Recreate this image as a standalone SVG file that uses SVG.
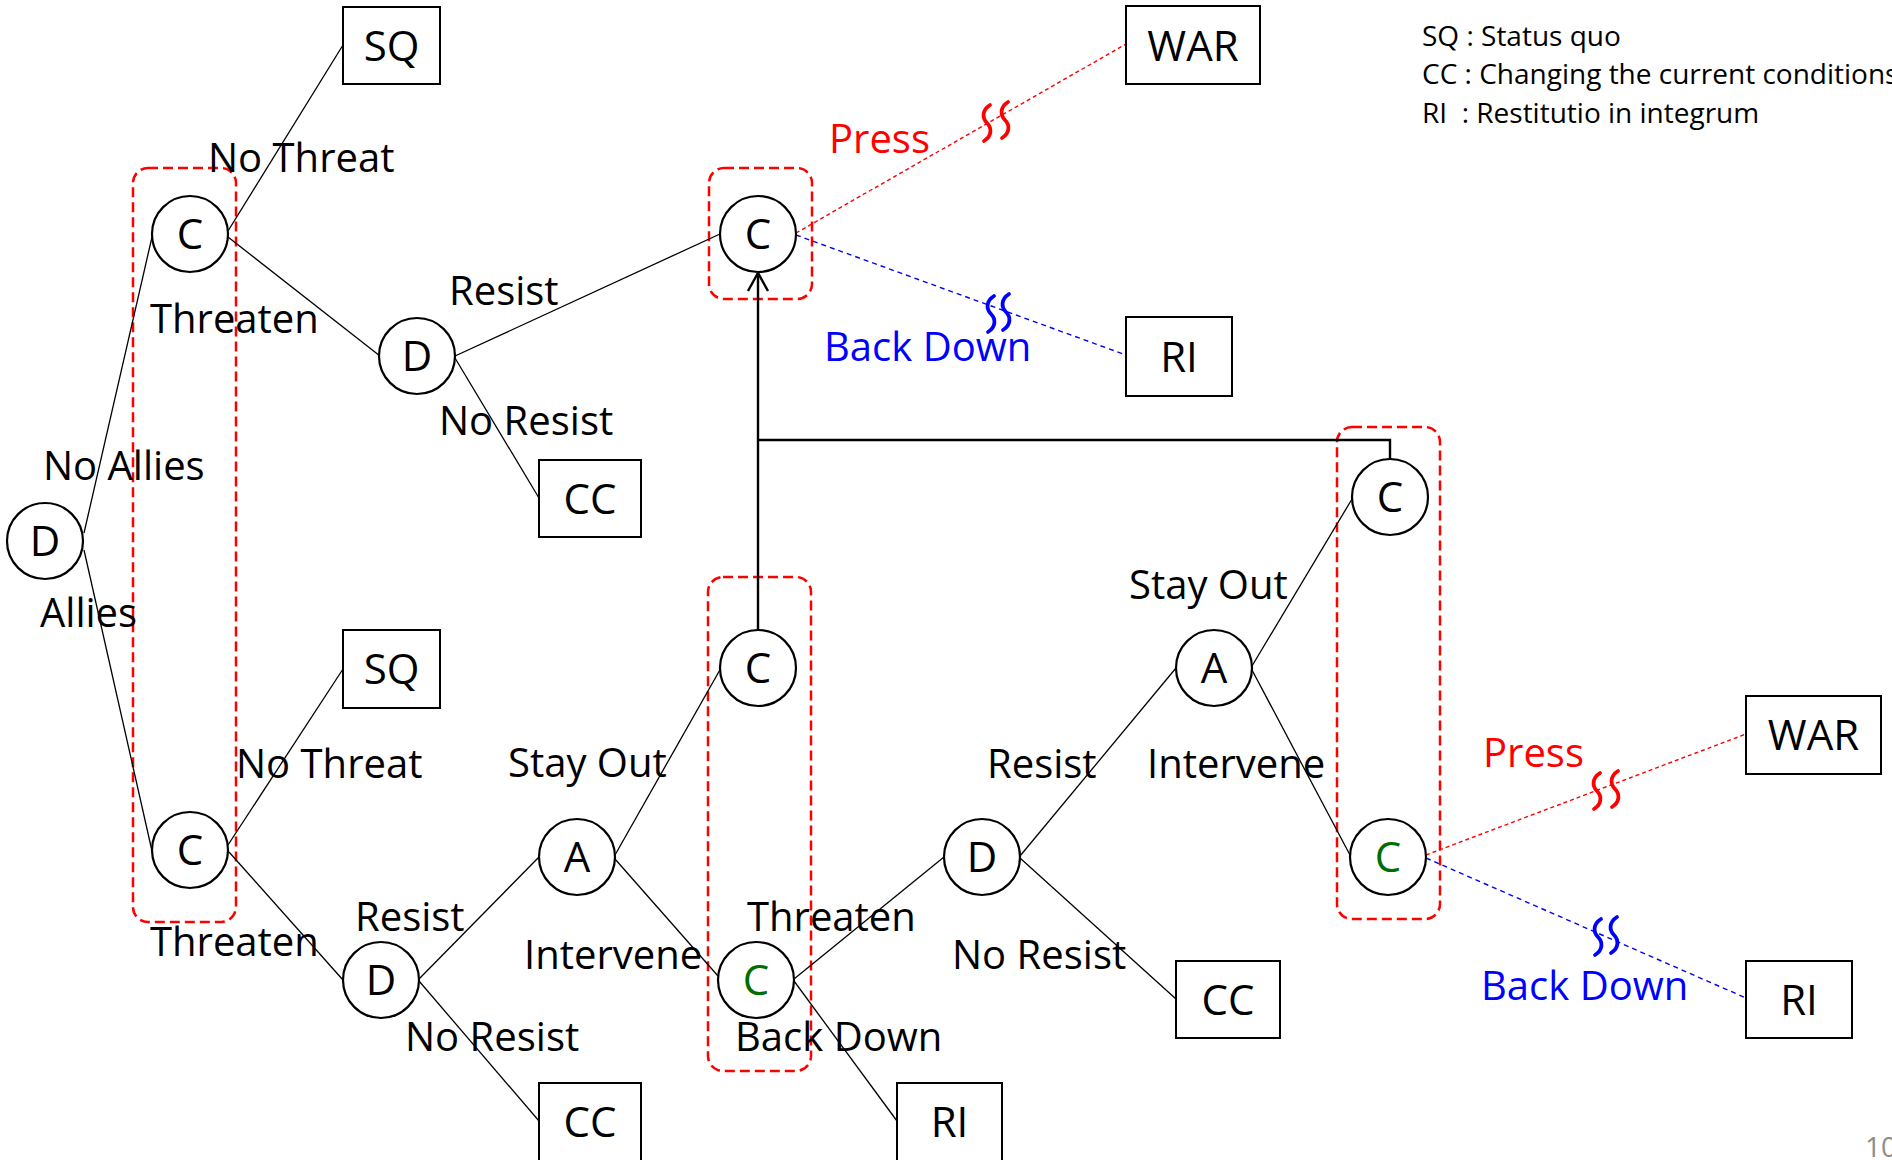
<svg xmlns="http://www.w3.org/2000/svg" width="1892" height="1160" viewBox="0 0 1892 1160">
<defs>
<style>
.bg{fill:#ffffff}
.node{fill:#ffffff;stroke:#000;stroke-width:2.2}
.box{fill:#ffffff;stroke:#000;stroke-width:2}
.nt{font-family:"Open Sans","Liberation Sans",sans-serif;font-size:42px;fill:#000;text-anchor:middle}
.green{fill:#006e00}
.lbl{font-family:"Open Sans","Liberation Sans",sans-serif;font-size:40px;fill:#000}
.red{fill:#ff0000}
.blue{fill:#0000ff}
.leg{font-family:"Open Sans","Liberation Sans",sans-serif;font-size:28px;fill:#000}
.edge{stroke:#000;stroke-width:1.3;fill:none}
.thick{stroke:#000;stroke-width:2.4;fill:none}
.grp{fill:none;stroke:#ff0000;stroke-width:2.5;stroke-dasharray:10 5}
.rdash{stroke:#ff0000;stroke-width:1.4;stroke-dasharray:4 3;fill:none}
.bdash{stroke:#0000ff;stroke-width:1.4;stroke-dasharray:5 4;fill:none}
.sqr{fill:none;stroke:#ff0000;stroke-width:3.8;stroke-linecap:round}
.sqb{fill:none;stroke:#0000ff;stroke-width:3.8;stroke-linecap:round}
</style>
<path id="sq" d="M3,-18 C-5,-13 -5,-5 0,0 C5,5 5,13 -3,18"/>
</defs>
<rect class="bg" x="0" y="0" width="1892" height="1160"/>

<g id="groups">
<rect class="grp" x="133" y="168" width="103" height="754" rx="15"/>
<rect class="grp" x="709" y="168" width="103" height="131" rx="15"/>
<rect class="grp" x="708" y="577" width="103" height="494" rx="15"/>
<rect class="grp" x="1337" y="427" width="103" height="492" rx="15"/>
</g>

<g id="connectors">
<line class="edge" x1="84" y1="533" x2="152" y2="237"/>
<line class="edge" x1="84" y1="550" x2="152" y2="851"/>
<line class="edge" x1="228" y1="231" x2="343" y2="45"/>
<line class="edge" x1="228" y1="237" x2="380" y2="356"/>
<line class="edge" x1="455" y1="356" x2="720" y2="234"/>
<line class="edge" x1="455" y1="358" x2="539" y2="498"/>
<line class="edge" x1="228" y1="845" x2="343" y2="669"/>
<line class="edge" x1="229" y1="852" x2="343" y2="980"/>
<line class="edge" x1="419" y1="979" x2="539" y2="857"/>
<line class="edge" x1="419" y1="981" x2="539" y2="1121"/>
<line class="edge" x1="615" y1="855" x2="721" y2="668"/>
<line class="edge" x1="615" y1="859" x2="718" y2="976"/>
<line class="edge" x1="794" y1="979" x2="944" y2="857"/>
<line class="edge" x1="794" y1="981" x2="897" y2="1121"/>
<line class="edge" x1="1020" y1="856" x2="1176" y2="668"/>
<line class="edge" x1="1020" y1="858" x2="1176" y2="999"/>
<line class="edge" x1="1252" y1="666" x2="1352" y2="499"/>
<line class="edge" x1="1252" y1="670" x2="1350" y2="855"/>
<line class="rdash" x1="796" y1="233" x2="1126" y2="44"/>
<line class="bdash" x1="796" y1="235" x2="1126" y2="355"/>
<line class="rdash" x1="1426" y1="855" x2="1746" y2="734"/>
<line class="bdash" x1="1426" y1="858" x2="1746" y2="998"/>
<path class="thick" d="M758,630 L758,273"/>
<path class="thick" d="M748,291 L758,273 L768,291"/>
<path class="thick" d="M758,440 L1390,440 L1390,459"/>
<use href="#sq" class="sqr" x="987" y="123"/>
<use href="#sq" class="sqr" x="1005" y="120"/>
<use href="#sq" class="sqb" x="991" y="314"/>
<use href="#sq" class="sqb" x="1006" y="312"/>
<use href="#sq" class="sqr" x="1597" y="791"/>
<use href="#sq" class="sqr" x="1615" y="789"/>
<use href="#sq" class="sqb" x="1598" y="937"/>
<use href="#sq" class="sqb" x="1614" y="935"/>
</g>

<g id="labels">
<text class="lbl" x="208" y="172">No Threat</text>
<text class="lbl" x="150" y="333">Threaten</text>
<text class="lbl" x="449" y="305">Resist</text>
<text class="lbl" x="439" y="435">No Resist</text>
<text class="lbl" x="43" y="480">No Allies</text>
<text class="lbl" x="40" y="627">Allies</text>
<text class="lbl red" x="829" y="153">Press</text>
<text class="lbl blue" x="824" y="361">Back Down</text>
<text class="lbl" x="236" y="778">No Threat</text>
<text class="lbl" x="508" y="777">Stay Out</text>
<text class="lbl" x="150" y="956">Threaten</text>
<text class="lbl" x="355" y="931">Resist</text>
<text class="lbl" x="524" y="969">Intervene</text>
<text class="lbl" x="405" y="1051">No Resist</text>
<text class="lbl" x="747" y="931">Threaten</text>
<text class="lbl" x="735" y="1051">Back Down</text>
<text class="lbl" x="1129" y="599">Stay Out</text>
<text class="lbl" x="987" y="778">Resist</text>
<text class="lbl" x="1147" y="778">Intervene</text>
<text class="lbl" x="952" y="969">No Resist</text>
<text class="lbl red" x="1483" y="767">Press</text>
<text class="lbl blue" x="1481" y="1000">Back Down</text>
</g>

<g id="legend">
<text class="leg" x="1422" y="46">SQ : Status quo</text>
<text class="leg" x="1422" y="84">CC : Changing the current conditions</text>
<text class="leg" x="1422" y="123" xml:space="preserve">RI  : Restitutio in integrum</text>
</g>

<g id="n-D0"><circle class="node" cx="45" cy="541" r="38"/><text class="nt" x="45" y="556">D</text></g>
<g id="n-C1"><circle class="node" cx="190" cy="234" r="38"/><text class="nt" x="190" y="249">C</text></g>
<g id="n-D2"><circle class="node" cx="417" cy="356" r="38"/><text class="nt" x="417" y="371">D</text></g>
<g id="n-C3"><circle class="node" cx="758" cy="234" r="38"/><text class="nt" x="758" y="249">C</text></g>
<g id="n-C5"><circle class="node" cx="190" cy="850" r="38"/><text class="nt" x="190" y="865">C</text></g>
<g id="n-D3"><circle class="node" cx="381" cy="980" r="38"/><text class="nt" x="381" y="995">D</text></g>
<g id="n-A1"><circle class="node" cx="577" cy="857" r="38"/><text class="nt" x="577" y="872">A</text></g>
<g id="n-C6"><circle class="node" cx="758" cy="668" r="38"/><text class="nt" x="758" y="683">C</text></g>
<g id="n-C7"><circle class="node" cx="756" cy="980" r="38"/><text class="nt green" x="756" y="995">C</text></g>
<g id="n-D4"><circle class="node" cx="982" cy="857" r="38"/><text class="nt" x="982" y="872">D</text></g>
<g id="n-A2"><circle class="node" cx="1214" cy="668" r="38"/><text class="nt" x="1214" y="683">A</text></g>
<g id="n-C4"><circle class="node" cx="1390" cy="497" r="38"/><text class="nt" x="1390" y="512">C</text></g>
<g id="n-C8"><circle class="node" cx="1388" cy="857" r="38"/><text class="nt green" x="1388" y="872">C</text></g>

<g id="b-SQ1"><rect class="box" x="343" y="7" width="97" height="77"/><text class="nt" x="391.5" y="61">SQ</text></g>
<g id="b-CC1"><rect class="box" x="539" y="460" width="102" height="77"/><text class="nt" x="590" y="514">CC</text></g>
<g id="b-WAR1"><rect class="box" x="1126" y="6" width="134" height="78"/><text class="nt" x="1193" y="61">WAR</text></g>
<g id="b-RI1"><rect class="box" x="1126" y="317" width="106" height="79"/><text class="nt" x="1179" y="372">RI</text></g>
<g id="b-SQ2"><rect class="box" x="343" y="630" width="97" height="78"/><text class="nt" x="391.5" y="684">SQ</text></g>
<g id="b-CC2"><rect class="box" x="539" y="1083" width="102" height="80"/><text class="nt" x="590" y="1137">CC</text></g>
<g id="b-RI2"><rect class="box" x="897" y="1083" width="105" height="80"/><text class="nt" x="949.5" y="1137">RI</text></g>
<g id="b-CC3"><rect class="box" x="1176" y="961" width="104" height="77"/><text class="nt" x="1228" y="1015">CC</text></g>
<g id="b-WAR2"><rect class="box" x="1746" y="696" width="135" height="78"/><text class="nt" x="1813.5" y="750">WAR</text></g>
<g id="b-RI3"><rect class="box" x="1746" y="961" width="106" height="77"/><text class="nt" x="1799" y="1015">RI</text></g>

<text x="1865" y="1157" font-family="Open Sans, Liberation Sans, sans-serif" font-size="28" fill="#8c8c8c">10</text>
</svg>
